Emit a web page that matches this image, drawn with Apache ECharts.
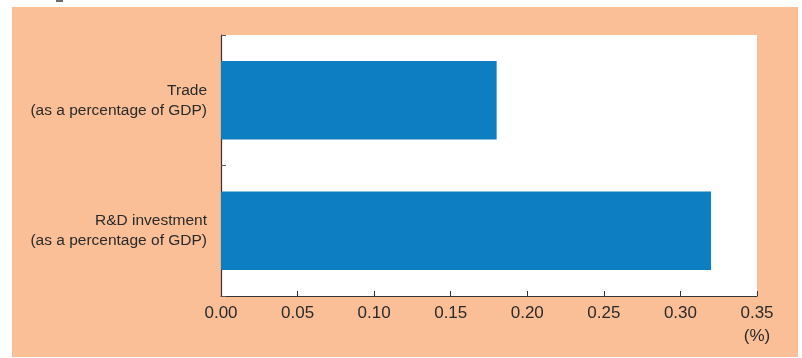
<!DOCTYPE html>
<html>
<head>
<meta charset="utf-8">
<script src="https://cdn.jsdelivr.net/npm/echarts@6/dist/echarts.min.js"></script>
<style>
  html, body { margin: 0; padding: 0; background: #fff; }
  #chart { width: 802px; height: 358px; }
</style>
</head>
<body>
<div id="chart"></div>
<script>
// Categories, top to bottom
const categories = ['Trade', 'R&D investment'];
const subtitle = '(as a percentage of GDP)';
// Values in percent
const values = [0.18, 0.32];
// Value axis settings
const axisMin = 0;
const axisMax = 0.35;
const axisStep = 0.05;
const unitLabel = '(%)';

const panelColor = '#FBBF97';
const barColor = '#0E7EC3';
const inkColor = '#2a2a2a';

const chart = echarts.init(document.getElementById('chart'), null, { renderer: 'canvas' });

chart.setOption({
  backgroundColor: '#ffffff',
  animation: false,
  graphic: [
    { type: 'rect', z: -10, shape: { x: 12, y: 7, width: 786, height: 350 }, style: { fill: panelColor } },
    { type: 'rect', z: -10, shape: { x: 56, y: 0, width: 7, height: 2 }, style: { fill: '#6b6b6b' } }
  ],
  grid: {
    left: 221, top: 35, right: 45, bottom: 62,
    show: true, backgroundColor: '#ffffff', borderWidth: 0
  },
  xAxis: {
    type: 'value',
    min: axisMin, max: axisMax, interval: axisStep,
    splitLine: { show: false },
    axisLine: { show: true, lineStyle: { color: '#333', width: 1.2 } },
    axisTick: { show: true, inside: true, length: 5, lineStyle: { color: '#333' } },
    axisLabel: {
      color: inkColor, fontFamily: 'Liberation Sans, Arial, sans-serif', fontSize: 17,
      margin: 6, lineHeight: 23,
      formatter: function (v) {
        const s = v.toFixed(2);
        return Math.abs(v - axisMax) < 1e-9 ? s + '\n' + unitLabel : s;
      }
    }
  },
  yAxis: {
    type: 'category',
    inverse: true,
    data: categories,
    axisLine: { show: true, lineStyle: { color: '#333', width: 1.2 } },
    axisTick: { show: true, inside: true, length: 5, lineStyle: { color: '#555' } },
    axisLabel: {
      color: inkColor, fontFamily: 'Liberation Sans, Arial, sans-serif', fontSize: 15.5,
      margin: 14, lineHeight: 20, align: 'right',
      formatter: function (v) { return v + '\n' + subtitle; }
    }
  },
  series: [{
    type: 'bar',
    data: values,
    barCategoryGap: '40%',
    itemStyle: { color: barColor }
  }]
});
</script>
</body>
</html>
